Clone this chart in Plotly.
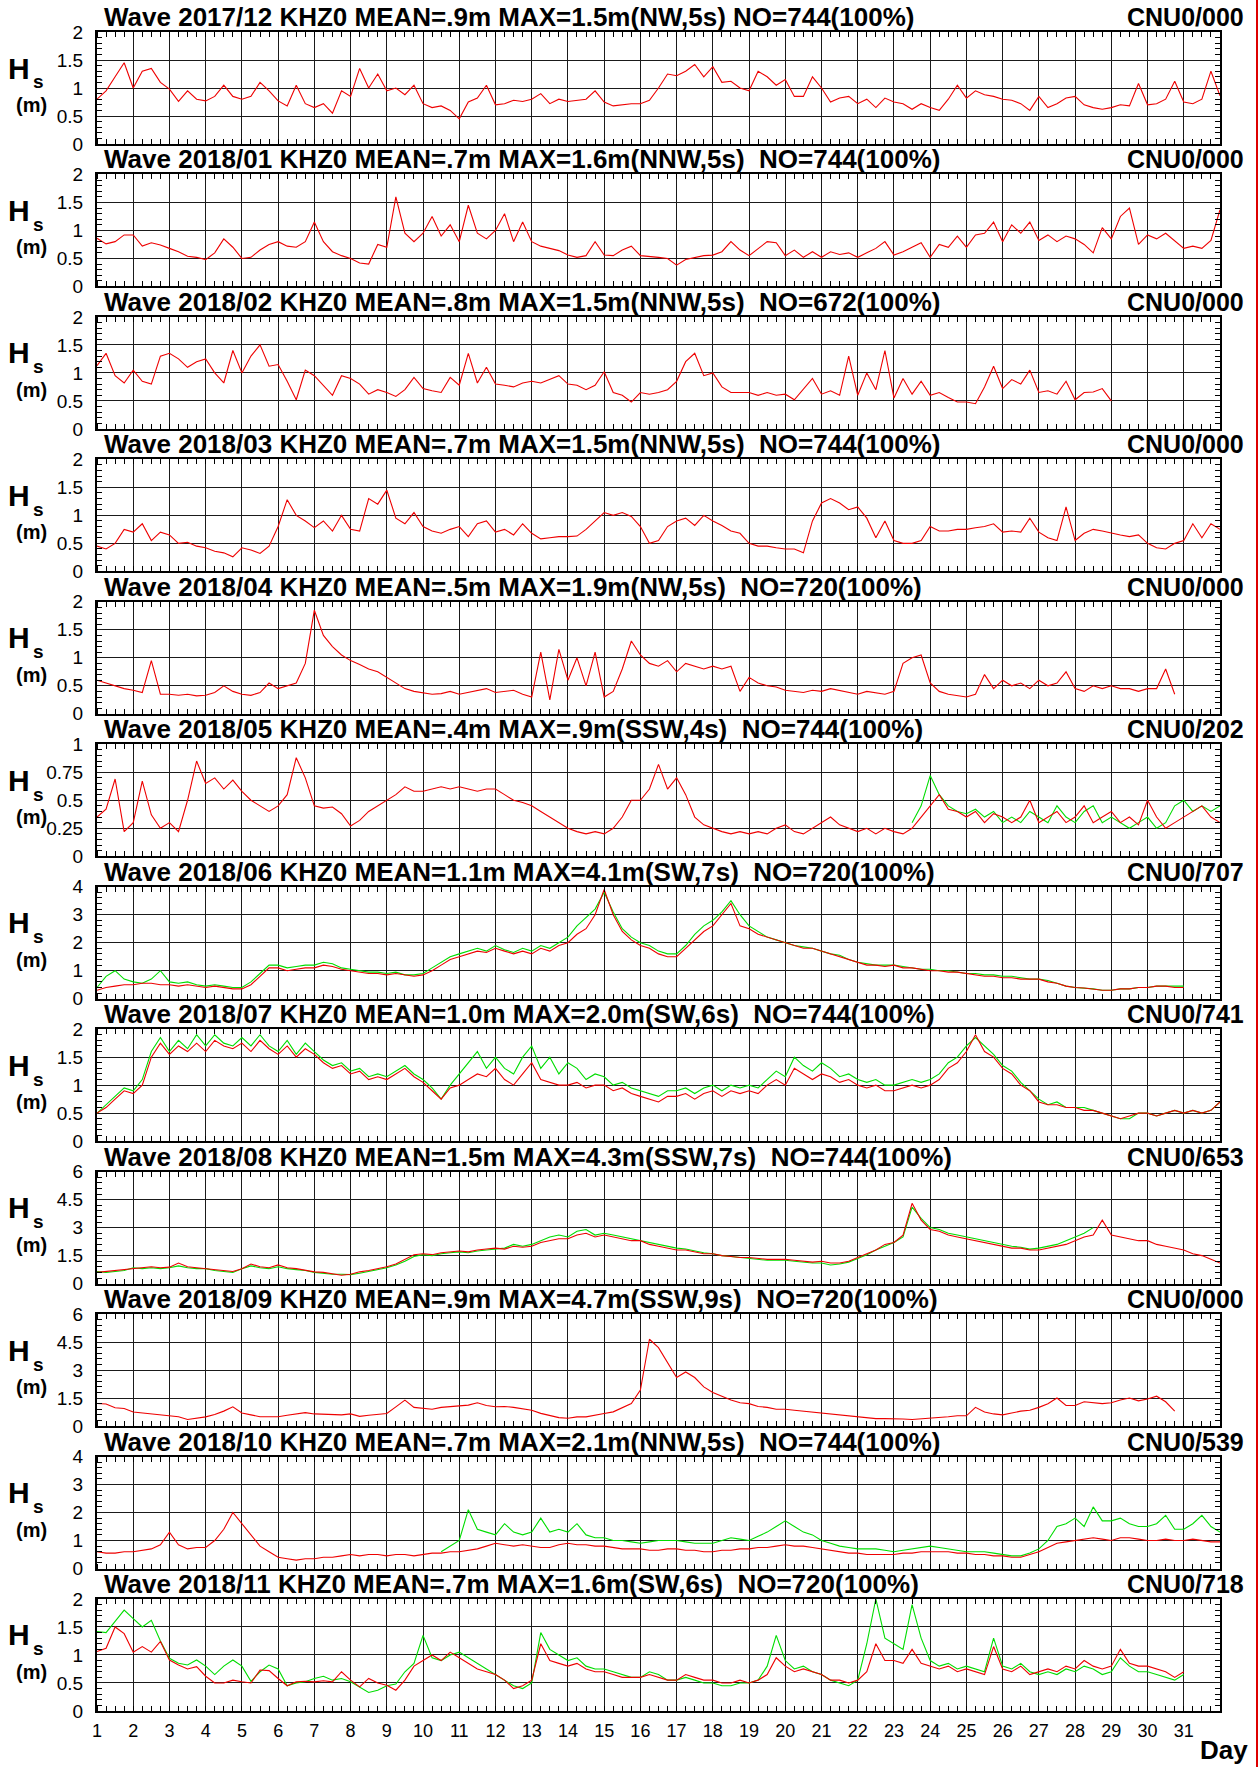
import plotly.graph_objects as go

# ---------------- data: 6-hourly Hs readings (m), first sample at the given start day ----------------
STEP = 0.25  # days between samples

hs_2017_12 = [0.80,0.95,1.20,1.45,1.00,1.30,1.35,1.10,0.98,0.76,0.95,0.80,0.77,0.85,1.05,0.85,
              0.80,0.85,1.10,0.95,0.77,0.68,1.05,0.72,0.65,0.72,0.55,0.95,0.85,1.35,1.00,1.25,
              0.95,1.00,0.88,1.05,0.72,0.65,0.68,0.60,0.45,0.75,0.82,1.05,0.70,0.72,0.78,0.76,
              0.80,0.90,0.72,0.80,0.76,0.78,0.80,0.95,0.75,0.68,0.70,0.72,0.72,0.78,1.00,1.25,
              1.22,1.30,1.42,1.20,1.38,1.10,1.12,1.00,0.95,1.30,1.20,1.05,1.15,0.85,0.85,1.20,
              1.00,0.75,0.82,0.85,0.72,0.80,0.65,0.82,0.75,0.72,0.62,0.72,0.65,0.60,0.80,1.05,
              0.82,0.95,0.88,0.85,0.80,0.78,0.72,0.60,0.85,0.65,0.72,0.82,0.85,0.70,0.65,0.62,
              0.65,0.70,0.68,1.08,0.70,0.72,0.80,1.12,0.75,0.72,0.80,1.30,0.86]

hs_2018_01 = [0.86,0.76,0.80,0.92,0.92,0.72,0.78,0.74,0.68,0.62,0.54,0.52,0.48,0.60,0.85,0.70,
              0.50,0.52,0.65,0.75,0.80,0.72,0.70,0.80,1.15,0.80,0.62,0.55,0.50,0.42,0.40,0.75,
              0.70,1.60,0.95,0.80,0.95,1.25,0.90,1.10,0.80,1.45,0.95,0.85,1.00,1.30,0.80,1.15,
              0.80,0.72,0.68,0.64,0.56,0.52,0.55,0.80,0.56,0.55,0.65,0.72,0.55,0.54,0.52,0.50,
              0.38,0.48,0.52,0.55,0.56,0.62,0.80,0.65,0.55,0.68,0.80,0.78,0.55,0.65,0.52,0.62,
              0.52,0.62,0.57,0.60,0.52,0.60,0.68,0.80,0.56,0.62,0.70,0.78,0.52,0.75,0.70,0.90,
              0.70,0.92,0.95,1.15,0.80,1.10,0.95,1.15,0.82,0.92,0.80,0.90,0.85,0.75,0.60,1.05,
              0.85,1.25,1.40,0.75,0.92,0.85,0.95,0.82,0.68,0.72,0.68,0.82,1.37]

hs_2018_02 = [1.13,1.35,0.95,0.82,1.05,0.85,0.80,1.30,1.35,1.25,1.10,1.20,1.25,1.00,0.82,1.40,
              1.00,1.30,1.50,1.12,1.15,0.85,0.52,1.05,0.95,0.78,0.60,0.95,0.90,0.80,0.62,0.70,
              0.65,0.58,0.70,0.92,0.72,0.68,0.65,0.92,0.78,1.35,0.82,1.10,0.80,0.78,0.75,0.82,
              0.85,0.82,0.88,0.95,0.80,0.78,0.70,0.78,1.02,0.65,0.60,0.48,0.65,0.62,0.65,0.70,
              0.85,1.20,1.35,0.95,1.00,0.75,0.65,0.65,0.65,0.60,0.65,0.60,0.62,0.52,0.70,0.90,
              0.62,0.68,0.60,1.30,0.60,1.00,0.70,1.40,0.55,0.90,0.62,0.85,0.60,0.65,0.56,0.48,
              0.48,0.45,0.75,1.12,0.72,0.88,0.80,1.05,0.65,0.68,0.62,0.85,0.52,0.65,0.66,0.72,
              0.50]

hs_2018_03 = [0.45,0.40,0.50,0.75,0.70,0.85,0.55,0.70,0.65,0.50,0.52,0.45,0.42,0.36,0.33,0.26,
              0.42,0.38,0.32,0.45,0.80,1.28,1.00,0.90,0.78,0.90,0.72,1.00,0.75,0.72,1.30,1.20,
              1.45,0.95,0.85,1.05,0.80,0.72,0.68,0.75,0.80,0.62,0.85,0.90,0.70,0.75,0.65,0.85,
              0.68,0.58,0.60,0.62,0.62,0.63,0.75,0.90,1.05,1.00,1.05,0.98,0.80,0.50,0.55,0.80,
              0.90,0.95,0.82,1.00,0.90,0.82,0.72,0.68,0.50,0.45,0.45,0.42,0.40,0.40,0.33,0.90,
              1.22,1.30,1.22,1.10,1.15,0.95,0.60,0.90,0.55,0.50,0.50,0.55,0.80,0.72,0.72,0.75,
              0.75,0.78,0.80,0.85,0.70,0.72,0.70,0.95,0.70,0.60,0.55,1.15,0.55,0.68,0.75,0.72,
              0.68,0.65,0.62,0.65,0.50,0.42,0.40,0.50,0.55,0.85,0.60,0.85,0.75]

hs_2018_04 = [0.60,0.55,0.50,0.45, 0.42,0.38,0.95,0.35, 0.35,0.33,0.35,0.32, 0.33,0.38,0.50,0.40,
              0.35,0.33,0.38,0.55, 0.45,0.50,0.55,0.90, 1.85,1.40,1.20,1.05, 0.95,0.88,0.80,0.75,
              0.65,0.55,0.45,0.40, 0.38,0.35,0.36,0.40, 0.35,0.38,0.42,0.45, 0.38,0.40,0.42,0.35,
              0.30,1.10,0.25,1.15, 0.60,1.00,0.50,1.10, 0.30,0.40,0.80,1.30, 1.05,0.90,0.85,0.95,
              0.75,0.90,0.85,0.80, 0.85,0.80,0.85,0.40, 0.65,0.55,0.50,0.48, 0.42,0.40,0.38,0.42,
              0.40,0.45,0.42,0.38, 0.35,0.40,0.38,0.35, 0.40,0.90,1.00,1.05, 0.55,0.40,0.35,0.32,
              0.30,0.35,0.70,0.45, 0.60,0.50,0.55,0.45, 0.60,0.50,0.55,0.75, 0.45,0.40,0.50,0.45,
              0.50,0.45,0.45,0.40, 0.45,0.45,0.80,0.35]

hs_2018_05 = [0.35,0.42,0.69,0.22, 0.30,0.67,0.37,0.25, 0.30,0.22,0.50,0.85, 0.65,0.70,0.60,0.68,
              0.58,0.50,0.45,0.40, 0.45,0.55,0.88,0.70, 0.45,0.43,0.44,0.38, 0.27,0.32,0.40,0.45,
              0.50,0.55,0.62,0.58, 0.58,0.60,0.62,0.60, 0.62,0.60,0.58,0.60, 0.60,0.55,0.50,0.48,
              0.45,0.40,0.35,0.30, 0.25,0.22,0.20,0.22, 0.20,0.25,0.35,0.50, 0.50,0.60,0.82,0.60,
              0.70,0.55,0.35,0.28, 0.25,0.22,0.20,0.22, 0.20,0.22,0.20,0.25, 0.28,0.22,0.20,0.25,
              0.30,0.35,0.28,0.25, 0.22,0.25,0.20,0.25, 0.22,0.20,0.25,0.35, 0.45,0.55,0.42,0.40,
              0.35,0.40,0.30,0.38, 0.35,0.30,0.35,0.50, 0.30,0.35,0.40,0.30, 0.35,0.45,0.30,0.35,
              0.40,0.30,0.35,0.28, 0.50,0.35,0.25,0.30, 0.35,0.40,0.45,0.35, 0.30]
g_2018_05 = [0.30,0.45, 0.72,0.55,0.45,0.40, 0.38,0.42,0.35,0.40, 0.30,0.35,0.30,0.40,
             0.35,0.30,0.45,0.35, 0.30,0.40,0.45,0.30, 0.35,0.30,0.25,0.30, 0.35,0.25,0.30,0.45,
             0.50,0.40,0.45,0.40, 0.45]

hs_2018_06 = [0.30,0.40,0.45,0.50, 0.50,0.55,0.55,0.50, 0.50,0.45,0.50,0.45, 0.40,0.45,0.40,0.35,
              0.35,0.50,0.80,1.10, 1.10,1.00,1.05,1.10, 1.10,1.20,1.15,1.05, 1.00,0.95,0.90,0.90,
              0.85,0.90,0.85,0.80, 0.85,1.00,1.20,1.40, 1.50,1.60,1.70,1.65, 1.80,1.70,1.60,1.70,
              1.60,1.80,1.70,1.90, 2.00,2.30,2.50,3.00, 3.90,3.00,2.40,2.10, 1.90,1.80,1.60,1.50,
              1.50,1.80,2.10,2.40, 2.60,3.00,3.40,2.60, 2.50,2.30,2.20,2.10, 2.00,1.90,1.80,1.80,
              1.70,1.60,1.50,1.40, 1.30,1.20,1.20,1.15, 1.20,1.10,1.10,1.05, 1.00,1.00,0.95,0.95,
              0.90,0.85,0.80,0.80, 0.75,0.75,0.70,0.70, 0.70,0.60,0.55,0.45, 0.40,0.38,0.35,0.30,
              0.30,0.35,0.35,0.40, 0.40,0.45,0.45,0.40, 0.40]
g_2018_06 = [0.40,0.80,1.00,0.70, 0.60,0.55,0.70,1.00, 0.60,0.55,0.60,0.50, 0.45,0.50,0.45,0.40,
             0.40,0.60,0.90,1.20, 1.20,1.10,1.15,1.20, 1.20,1.30,1.25,1.10, 1.05,1.00,0.95,0.95,
             0.90,0.95,0.85,0.85, 0.90,1.10,1.30,1.50, 1.60,1.70,1.80,1.70, 1.90,1.75,1.65,1.80,
             1.70,1.90,1.80,2.00, 2.20,2.60,2.90,3.20, 3.80,3.10,2.50,2.20, 2.00,1.90,1.70,1.60,
             1.60,1.90,2.30,2.60, 2.80,3.10,3.50,3.00, 2.60,2.40,2.20,2.10, 2.00,1.90,1.85,1.80,
             1.70,1.60,1.55,1.40, 1.30,1.25,1.20,1.20, 1.20,1.15,1.10,1.05, 1.05,1.00,1.00,0.95,
             0.90,0.90,0.85,0.85, 0.80,0.80,0.75,0.70, 0.70,0.65,0.55,0.45, 0.40,0.38,0.35,0.30,
             0.30,0.35,0.35,0.40, 0.40,0.45,0.45,0.45, 0.45]

hs_2018_07 = [0.50,0.60,0.75,0.90, 0.85,1.00,1.50,1.75, 1.55,1.70,1.60,1.75, 1.60,1.80,1.70,1.65,
              1.75,1.60,1.80,1.65, 1.55,1.70,1.50,1.65, 1.55,1.40,1.30,1.35, 1.20,1.25,1.10,1.15,
              1.10,1.20,1.30,1.15, 1.05,0.90,0.75,0.95, 1.00,1.10,1.20,1.15, 1.30,1.10,1.00,1.20,
              1.40,1.10,1.05,1.00, 1.00,1.05,0.95,1.00, 1.00,0.90,0.95,0.85, 0.80,0.75,0.70,0.80,
              0.80,0.85,0.75,0.85, 0.90,0.80,0.90,0.85, 0.90,0.85,1.00,1.10, 1.00,1.30,1.20,1.10,
              1.20,1.15,1.05,1.10, 1.00,0.95,1.00,0.90, 0.90,0.95,1.00,0.95, 1.00,1.10,1.30,1.40,
              1.60,1.90,1.60,1.50, 1.30,1.20,1.00,0.90, 0.70,0.65,0.65,0.60, 0.60,0.55,0.55,0.50,
              0.45,0.40,0.45,0.50, 0.50,0.45,0.50,0.55, 0.50,0.55,0.50,0.55, 0.70]
g_2018_07 = [0.50,0.65,0.80,0.95, 0.90,1.10,1.60,1.85, 1.60,1.80,1.65,1.90, 1.70,1.90,1.75,1.70,
             1.85,1.70,1.90,1.70, 1.60,1.80,1.55,1.75, 1.60,1.45,1.35,1.40, 1.25,1.30,1.15,1.20,
             1.15,1.25,1.35,1.20, 1.10,0.95,0.75,1.00, 1.20,1.40,1.60,1.30, 1.50,1.30,1.20,1.50,
             1.70,1.30,1.50,1.20, 1.40,1.30,1.10,1.20, 1.15,1.00,1.05,0.95, 0.90,0.85,0.80,0.90,
             0.90,0.95,0.85,0.95, 1.00,0.90,1.00,0.95, 1.00,0.95,1.10,1.25, 1.15,1.50,1.35,1.25,
             1.40,1.30,1.15,1.20, 1.10,1.05,1.10,1.00, 1.00,1.05,1.10,1.05, 1.10,1.20,1.40,1.50,
             1.70,1.85,1.70,1.55, 1.35,1.25,1.05,0.90, 0.75,0.65,0.70,0.60, 0.60,0.60,0.55,0.50,
             0.45,0.40,0.40,0.50, 0.50,0.45,0.50,0.55, 0.50,0.55,0.50,0.55, 0.70]

hs_2018_08 = [0.60,0.65,0.70,0.75, 0.80,0.85,0.90,0.85, 0.88,1.10,0.90,0.85, 0.80,0.75,0.70,0.65,
              0.80,1.05,0.90,0.85, 1.00,0.85,0.80,0.70, 0.63,0.60,0.54,0.45, 0.50,0.63,0.70,0.80,
              0.90,1.05,1.30,1.55, 1.60,1.55,1.65,1.70, 1.75,1.70,1.80,1.85, 1.90,1.85,2.00,1.95,
              2.00,2.20,2.30,2.40, 2.40,2.60,2.70,2.50, 2.60,2.50,2.40,2.30, 2.30,2.10,2.00,1.90,
              1.80,1.80,1.70,1.60, 1.60,1.50,1.45,1.40, 1.40,1.35,1.30,1.30, 1.30,1.25,1.20,1.15,
              1.20,1.10,1.10,1.20, 1.40,1.60,1.80,2.10, 2.20,2.60,4.30,3.40, 2.90,2.80,2.60,2.50,
              2.40,2.30,2.20,2.10, 2.00,1.90,1.90,1.80, 1.80,1.90,2.00,2.10, 2.30,2.50,2.60,3.40,
              2.60,2.50,2.40,2.30, 2.30,2.10,2.00,1.90, 1.80,1.60,1.50,1.30, 1.10]
g_2018_08 = [0.65,0.60,0.65,0.70, 0.85,0.80,0.85,0.80, 0.85,0.95,0.85,0.80, 0.80,0.70,0.65,0.60,
             0.80,0.95,0.85,0.80, 0.90,0.80,0.75,0.70, 0.60,0.55,0.50,0.50, 0.48,0.55,0.65,0.75,
             0.85,1.00,1.20,1.45, 1.55,1.50,1.60,1.65, 1.70,1.65,1.75,1.80, 1.85,1.90,2.10,2.00,
             2.10,2.30,2.50,2.60, 2.50,2.80,2.90,2.60, 2.70,2.60,2.50,2.40, 2.30,2.20,2.10,2.00,
             1.90,1.85,1.75,1.65, 1.60,1.50,1.45,1.40, 1.35,1.30,1.25,1.25, 1.25,1.20,1.15,1.10,
             1.10,1.00,1.05,1.15, 1.35,1.55,1.80,2.00, 2.20,2.50,4.10,3.50, 3.00,2.90,2.70,2.60,
             2.50,2.40,2.30,2.20, 2.10,2.00,1.95,1.85, 1.90,2.00,2.10,2.30, 2.50,2.70,3.00]

hs_2018_09 = [1.21,1.18,0.98,0.94, 0.75,0.70,0.68,0.62, 0.55,0.50,0.35,0.40, 0.49,0.62,0.80,1.03,
              0.70,0.60,0.50,0.50, 0.50,0.58,0.65,0.72, 0.65,0.62,0.63,0.60, 0.65,0.52,0.58,0.62,
              0.67,1.03,1.39,1.00, 0.94,0.90,1.00,1.03, 1.05,1.12,1.25,1.10, 1.03,1.05,1.00,0.94,
              0.85,0.68,0.58,0.45, 0.42,0.49,0.49,0.60, 0.67,0.76,1.00,1.21, 1.93,4.65,4.20,3.40,
              2.60,2.90,2.60,2.10, 1.80,1.60,1.40,1.25, 1.20,1.05,1.00,0.90, 0.90,0.85,0.80,0.75,
              0.70,0.65,0.60,0.55, 0.50,0.45,0.40,0.40, 0.40,0.38,0.35,0.38, 0.40,0.45,0.50,0.55,
              0.55,1.00,0.75,0.65, 0.60,0.70,0.80,0.85, 1.00,1.20,1.50,1.10, 1.10,1.30,1.25,1.20,
              1.25,1.40,1.50,1.35, 1.45,1.60,1.30,0.80]

hs_2018_10 = [0.60,0.55,0.55,0.60, 0.60,0.65,0.70,0.85, 1.30,0.85,0.70,0.75, 0.75,1.00,1.40,2.00,
              1.60,1.20,0.80,0.60, 0.40,0.35,0.30,0.35, 0.35,0.40,0.40,0.45, 0.50,0.45,0.50,0.50,
              0.45,0.50,0.50,0.45, 0.50,0.55,0.55,0.60, 0.60,0.65,0.70,0.80, 0.90,0.85,0.80,0.85,
              0.80,0.75,0.75,0.85, 0.90,0.85,0.85,0.80, 0.80,0.75,0.70,0.70, 0.70,0.65,0.65,0.70,
              0.70,0.65,0.65,0.60, 0.60,0.65,0.65,0.70, 0.70,0.75,0.75,0.80, 0.85,0.80,0.80,0.75,
              0.70,0.65,0.60,0.55, 0.55,0.50,0.50,0.50, 0.50,0.55,0.55,0.60, 0.60,0.60,0.60,0.55,
              0.55,0.50,0.50,0.45, 0.45,0.40,0.40,0.50, 0.60,0.75,0.90,0.95, 1.00,1.05,1.10,1.05,
              1.00,1.10,1.10,1.05, 1.00,1.00,1.05,1.00, 1.00,1.05,1.00,0.95, 0.95]
g_2018_10 = [0.60,0.80, 1.00,2.10,1.40,1.30, 1.20,1.60,1.30,1.20, 1.30,1.80,1.30,1.40,
             1.30,1.60,1.20,1.10, 1.10,1.00,1.00,0.95, 0.90,0.95,1.00,1.00, 1.00,0.95,0.90,0.90,
             0.90,1.00,1.10,1.05, 1.00,1.15,1.30,1.50, 1.70,1.50,1.30,1.20, 1.00,0.90,0.80,0.75,
             0.70,0.70,0.70,0.65, 0.60,0.65,0.70,0.75, 0.80,0.75,0.70,0.65, 0.60,0.60,0.60,0.55,
             0.50,0.45,0.45,0.55, 0.70,1.00,1.50,1.60, 1.80,1.50,2.20,1.70, 1.70,1.80,1.60,1.50,
             1.50,1.60,1.90,1.40, 1.40,1.60,1.90,1.50, 1.30]

hs_2018_11 = [1.06,1.12,1.50,1.38, 1.05,1.15,1.05,1.24, 0.91,0.82,0.75,0.79, 0.62,0.50,0.50,0.55,
              0.52,0.50,0.73,0.72, 0.58,0.45,0.52,0.53, 0.52,0.54,0.52,0.70, 0.55,0.43,0.58,0.50,
              0.46,0.37,0.55,0.80, 0.90,1.00,0.90,1.05, 0.95,0.85,0.75,0.70, 0.65,0.55,0.40,0.45,
              0.55,1.20,0.90,0.85, 0.80,0.85,0.75,0.70, 0.70,0.65,0.60,0.60, 0.60,0.65,0.60,0.55,
              0.55,0.65,0.60,0.55, 0.55,0.50,0.50,0.55, 0.50,0.55,0.65,0.95, 0.80,0.70,0.75,0.70,
              0.65,0.55,0.55,0.50, 0.55,0.70,1.20,0.90, 0.90,0.85,1.10,0.85, 0.80,0.75,0.80,0.70,
              0.75,0.70,0.65,1.15, 0.75,0.70,0.80,0.65, 0.70,0.75,0.70,0.80, 0.75,0.90,0.80,0.75,
              0.80,1.10,0.85,0.80, 0.80,0.75,0.70,0.60, 0.70]
g_2018_11 = [1.42,1.40,1.60,1.80, 1.65,1.50,1.62,1.25, 0.94,0.85,0.82,0.91, 0.80,0.65,0.80,0.91,
             0.80,0.53,0.70,0.82, 0.75,0.45,0.50,0.52, 0.58,0.62,0.55,0.58, 0.52,0.42,0.33,0.37,
             0.45,0.48,0.70,0.85, 1.35,0.95,0.90,1.00, 1.05,0.95,0.85,0.75, 0.65,0.55,0.45,0.40,
             0.50,1.40,1.10,1.00, 0.90,0.95,0.80,0.75, 0.75,0.70,0.65,0.60, 0.60,0.70,0.65,0.55,
             0.55,0.60,0.55,0.50, 0.50,0.45,0.45,0.50, 0.50,0.55,0.80,1.35, 0.90,0.75,0.80,0.70,
             0.65,0.55,0.50,0.45, 0.55,1.20,2.00,1.30, 1.20,1.10,1.90,1.30, 0.90,0.80,0.85,0.75,
             0.80,0.75,0.70,1.30, 0.80,0.75,0.85,0.70, 0.65,0.70,0.65,0.75, 0.70,0.80,0.75,0.65,
             0.70,0.95,0.80,0.70, 0.70,0.65,0.60,0.55, 0.65]

titles = [
    "Wave 2017/12 KHZ0 MEAN=.9m MAX=1.5m(NW,5s) NO=744(100%)",
    "Wave 2018/01 KHZ0 MEAN=.7m MAX=1.6m(NNW,5s)\u00a0 NO=744(100%)",
    "Wave 2018/02 KHZ0 MEAN=.8m MAX=1.5m(NNW,5s)\u00a0 NO=672(100%)",
    "Wave 2018/03 KHZ0 MEAN=.7m MAX=1.5m(NNW,5s)\u00a0 NO=744(100%)",
    "Wave 2018/04 KHZ0 MEAN=.5m MAX=1.9m(NW,5s)\u00a0 NO=720(100%)",
    "Wave 2018/05 KHZ0 MEAN=.4m MAX=.9m(SSW,4s)\u00a0 NO=744(100%)",
    "Wave 2018/06 KHZ0 MEAN=1.1m MAX=4.1m(SW,7s)\u00a0 NO=720(100%)",
    "Wave 2018/07 KHZ0 MEAN=1.0m MAX=2.0m(SW,6s)\u00a0 NO=744(100%)",
    "Wave 2018/08 KHZ0 MEAN=1.5m MAX=4.3m(SSW,7s)\u00a0 NO=744(100%)",
    "Wave 2018/09 KHZ0 MEAN=.9m MAX=4.7m(SSW,9s)\u00a0 NO=720(100%)",
    "Wave 2018/10 KHZ0 MEAN=.7m MAX=2.1m(NNW,5s)\u00a0 NO=744(100%)",
    "Wave 2018/11 KHZ0 MEAN=.7m MAX=1.6m(SW,6s)\u00a0 NO=720(100%)",
]
codes = ["CNU0/000", "CNU0/000", "CNU0/000", "CNU0/000", "CNU0/000", "CNU0/202",
         "CNU0/707", "CNU0/741", "CNU0/653", "CNU0/000", "CNU0/539", "CNU0/718"]
y_max = [2, 2, 2, 2, 2, 1, 4, 2, 6, 6, 4, 2]
y_major = [0.5, 0.5, 0.5, 0.5, 0.5, 0.25, 1, 0.5, 1.5, 1.5, 1, 0.5]
day_labels = [str(d) for d in range(1, 32)]

red_series = [hs_2017_12, hs_2018_01, hs_2018_02, hs_2018_03, hs_2018_04, hs_2018_05,
              hs_2018_06, hs_2018_07, hs_2018_08, hs_2018_09, hs_2018_10, hs_2018_11]
# panel index -> (series, first day)
green_series = {5: (g_2018_05, 23.5), 6: (g_2018_06, 1.0), 7: (g_2018_07, 1.0),
                8: (g_2018_08, 1.0), 10: (g_2018_10, 10.5), 11: (g_2018_11, 1.0)}


def days_for(vals, start=1.0):
    return [start + i * STEP for i in range(len(vals))]


# ---------------- layout geometry (pixels) ----------------
W, H = 1259, 1767
X0, X1 = 97, 1220
TOP0, PITCH, PH = 32, 142.45, 112

fig = go.Figure()
layout = dict(width=W, height=H, margin=dict(l=0, r=0, t=0, b=0, pad=0), showlegend=False,
              paper_bgcolor="white", plot_bgcolor="white",
              font=dict(family="Liberation Sans, Arial, sans-serif", color="black"))
annotations = []
shapes = []

for k in range(12):
    top = TOP0 + PITCH * k
    bot = top + PH
    sfx = "" if k == 0 else str(k + 1)
    xa, ya = "x" + sfx, "y" + sfx
    last = (k == 11)
    layout["xaxis" + sfx] = dict(
        domain=[X0 / W, X1 / W], range=[1, 32], anchor=ya, automargin=False,
        tickmode="array", tickvals=list(range(1, 32)), ticktext=day_labels,
        showticklabels=last, ticks="", showgrid=True, gridcolor="#1a1a1a", gridwidth=1,
        showline=True, linecolor="black", linewidth=2, mirror="allticks", zeroline=False,
        tickfont=dict(size=18), ticklabelstandoff=2,
        minor=dict(dtick=0.25, tick0=1, ticks="inside", ticklen=5, tickcolor="black",
                   tickwidth=1, showgrid=False),
        fixedrange=True,
    )
    layout["yaxis" + sfx] = dict(
        domain=[1 - bot / H, 1 - top / H], range=[0, y_max[k]], anchor=xa, automargin=False,
        tick0=0, dtick=y_major[k], ticks="", showgrid=True, gridcolor="#1a1a1a", gridwidth=1,
        showline=True, linecolor="black", linewidth=2, mirror="allticks", zeroline=False,
        tickfont=dict(size=19), ticklabelstandoff=8,
        minor=dict(dtick=y_major[k] / 5, tick0=0, ticks="inside", ticklen=5,
                   tickcolor="black", tickwidth=1, showgrid=False),
        fixedrange=True,
    )
    if k in green_series:
        gv, gs = green_series[k]
        fig.add_trace(go.Scatter(x=days_for(gv, gs), y=gv, xaxis=xa, yaxis=ya, mode="lines",
                                 line=dict(color="#00dd00", width=1.1)))
    rv = red_series[k]
    fig.add_trace(go.Scatter(x=days_for(rv), y=rv, xaxis=xa, yaxis=ya, mode="lines",
                             line=dict(color="#ee0000", width=1.1)))
    # titles
    annotations.append(dict(text="<b>" + titles[k] + "</b>", xref="paper", yref="paper",
                            x=102 / W, y=1 - (top - 15) / H, xanchor="left", yanchor="middle",
                            showarrow=False, font=dict(size=26)))
    annotations.append(dict(text="<b>" + codes[k] + "</b>", xref="paper", yref="paper",
                            x=1246 / W, y=1 - (top - 15) / H, xanchor="right", yanchor="middle",
                            showarrow=False, font=dict(size=25)))
    # H_s (m) label
    annotations.append(dict(text="<b>H</b>", xref="paper", yref="paper", x=18.5 / W,
                            y=1 - (top + 36) / H, xanchor="center", yanchor="middle",
                            showarrow=False, font=dict(size=30)))
    annotations.append(dict(text="<b>s</b>", xref="paper", yref="paper", x=38 / W,
                            y=1 - (top + 50) / H, xanchor="center", yanchor="middle",
                            showarrow=False, font=dict(size=19)))
    annotations.append(dict(text="<b>(m)</b>", xref="paper", yref="paper", x=32 / W,
                            y=1 - (top + 73) / H, xanchor="center", yanchor="middle",
                            showarrow=False, font=dict(size=20)))

annotations.append(dict(text="<b>Day</b>", xref="paper", yref="paper", x=1250 / W,
                        y=1 - 1750 / H, xanchor="right", yanchor="middle", showarrow=False,
                        font=dict(size=26)))
shapes.append(dict(type="line", xref="paper", yref="paper", x0=1257 / W, x1=1257 / W,
                   y0=0, y1=1, line=dict(color="#dd0000", width=2)))

layout["annotations"] = annotations
layout["shapes"] = shapes
fig.update_layout(**layout)
fig.write_html("out.html", config={"displayModeBar": False},
               post_script="document.body.style.margin='0px';document.body.style.padding='0px';"
                           "document.body.style.overflow='hidden';")
